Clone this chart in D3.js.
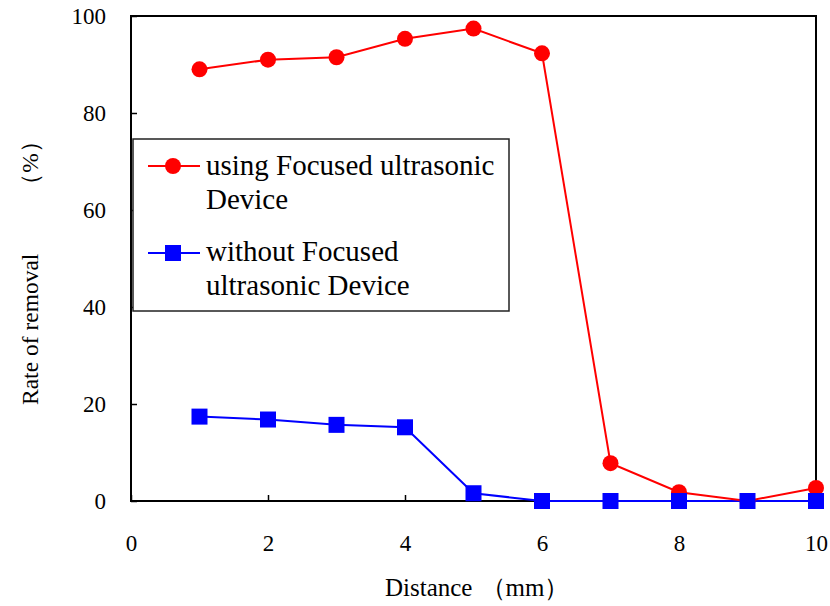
<!DOCTYPE html>
<meta charset="utf-8">
<script src="https://d3js.org/d3.v7.min.js"></script>
<style>
  body { margin: 0; background: #fff; }
</style>
<div id="d3chart"></div>
<script>
    // data
    var distance = [1, 2, 3, 4, 5, 6, 7, 8, 9, 10];
    var usingFocused = [89, 91, 91.5, 95.3, 97.4, 92.3, 7.8, 1.8, 0, 2.7];
    var withoutFocused = [17.4, 16.8, 15.7, 15.2, 1.6, 0, 0, 0, 0, 0];
    var xTicks = [0, 2, 4, 6, 8, 10];
    var yTicks = [0, 20, 40, 60, 80, 100];
    var seriesNames = [["using Focused ultrasonic", "Device"], ["without Focused", "ultrasonic Device"]];

    var FONT = "Liberation Serif, Times New Roman, serif";
    var W = 830, H = 606;
    var plot = {left: 131, right: 816, top: 16, bottom: 501};

    var svg = d3.select("#d3chart")
        .append("svg")
        .attr("width", W)
        .attr("height", H)
        .attr("font-family", FONT);

    var x = d3.scaleLinear().domain([0, 10]).range([plot.left, plot.right]);
    var y = d3.scaleLinear().domain([0, 100]).range([plot.bottom, plot.top]);

    // X axis (ticks point inward)
    var gx = svg.append("g")
        .attr("transform", "translate(0," + plot.bottom + ")")
        .call(d3.axisBottom(x).tickValues(xTicks).tickSizeInner(-6).tickSizeOuter(0).tickPadding(34))
        .attr("font-family", FONT).attr("font-size", 23);
    gx.select(".domain").remove();
    gx.selectAll("line").attr("stroke", "#000").attr("stroke-width", 1.5);

    // Y axis
    var gy = svg.append("g")
        .attr("transform", "translate(" + plot.left + ",0)")
        .call(d3.axisLeft(y).tickValues(yTicks).tickSizeInner(-6).tickSizeOuter(0).tickPadding(25))
        .attr("font-family", FONT).attr("font-size", 23);
    gy.select(".domain").remove();
    gy.selectAll("line").attr("stroke", "#000").attr("stroke-width", 1.5);

    // frame
    svg.append("rect")
        .attr("x", plot.left).attr("y", plot.top)
        .attr("width", plot.right - plot.left)
        .attr("height", plot.bottom - plot.top)
        .attr("fill", "none")
        .attr("stroke", "#000")
        .attr("stroke-width", 2);

    // axis labels
    svg.append("text")
        .attr("x", 385).attr("y", 596)
        .attr("font-size", 25)
        .text("Distance");
    svg.append("text")
        .attr("x", 525).attr("y", 596)
        .attr("text-anchor", "middle")
        .attr("font-size", 25)
        .text("（mm）");

    svg.append("text")
        .attr("transform", "translate(38,405) rotate(-90)")
        .attr("font-size", 23.5)
        .text("Rate of removal");
    svg.append("text")
        .attr("transform", "translate(38,163) rotate(-90)")
        .attr("text-anchor", "middle")
        .attr("font-size", 23.5)
        .text("（%）");

    var line = d3.line()
        .x(function(d, i) { return x(distance[i]); })
        .y(function(d) { return y(d); });

    // blue series
    svg.append("path")
        .datum(withoutFocused)
        .attr("d", line)
        .attr("fill", "none")
        .attr("stroke", "#0000ff")
        .attr("stroke-width", 2);

    // red series
    svg.append("path")
        .datum(usingFocused)
        .attr("d", line)
        .attr("fill", "none")
        .attr("stroke", "#ff0000")
        .attr("stroke-width", 2);

    svg.append("g")
        .selectAll("circle")
        .data(usingFocused)
        .enter()
        .append("circle")
        .attr("cx", function(d, i) { return x(distance[i]); })
        .attr("cy", function(d) { return y(d); })
        .attr("r", 8)
        .attr("fill", "#ff0000");

    svg.append("g")
        .selectAll("rect")
        .data(withoutFocused)
        .enter()
        .append("rect")
        .attr("x", function(d, i) { return x(distance[i]) - 8; })
        .attr("y", function(d) { return y(d) - 8; })
        .attr("width", 16)
        .attr("height", 16)
        .attr("fill", "#0000ff");

    // legend
    var legend = svg.append("g");
    legend.append("rect")
        .attr("x", 133).attr("y", 139)
        .attr("width", 376).attr("height", 172)
        .attr("fill", "#fff")
        .attr("stroke", "#222")
        .attr("stroke-width", 1.5);

    var entries = [
        {color: "#ff0000", shape: "circle", y: 166, base: 175, lines: seriesNames[0]},
        {color: "#0000ff", shape: "square", y: 253, base: 261, lines: seriesNames[1]}
    ];
    entries.forEach(function(e) {
        legend.append("line")
            .attr("x1", 148).attr("x2", 200)
            .attr("y1", e.y).attr("y2", e.y)
            .attr("stroke", e.color)
            .attr("stroke-width", 2);
        if (e.shape === "circle") {
            legend.append("circle")
                .attr("cx", 173).attr("cy", e.y).attr("r", 8)
                .attr("fill", e.color);
        } else {
            legend.append("rect")
                .attr("x", 165).attr("y", e.y - 8)
                .attr("width", 16).attr("height", 16)
                .attr("fill", e.color);
        }
        var t = legend.append("text")
            .attr("x", 206).attr("y", e.base)
            .attr("font-size", 29);
        e.lines.forEach(function(s, k) {
            t.append("tspan")
                .attr("x", 206)
                .attr("dy", k === 0 ? 0 : 34)
                .text(s);
        });
    });
</script>
